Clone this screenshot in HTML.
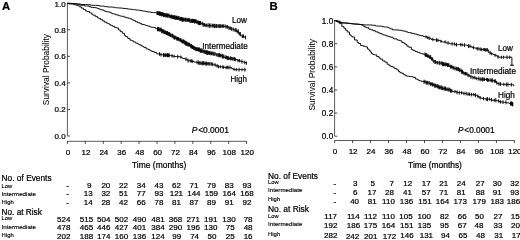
<!DOCTYPE html>
<html><head><meta charset="utf-8"><title>Survival Probability</title>
<style>
html,body{margin:0;padding:0;background:#fff;}
body{width:520px;height:240px;overflow:hidden;}
svg{display:block;}
svg{transform:translateZ(0);will-change:transform;}
svg text{font-family:'Liberation Sans', Arial, Helvetica, sans-serif;fill:#000;stroke:#000;stroke-width:0.22px;}
</style></head><body>
<svg width="520" height="240" viewBox="0 0 520 240">
<rect width="520" height="240" fill="#fff"/>
<g stroke="#4a4a4a" stroke-width="0.9" fill="none"><path d="M67.40 3.20 V136.00"/><path stroke="#333" d="M67.40 136.00 h2.60"/><path stroke="#333" d="M67.40 109.44 h2.60"/><path stroke="#333" d="M67.40 82.88 h2.60"/><path stroke="#333" d="M67.40 56.32 h2.60"/><path stroke="#333" d="M67.40 29.76 h2.60"/><path stroke="#333" d="M67.40 3.20 h2.60"/><path d="M67.40 141.30 H246.60"/><path stroke="#333" d="M67.40 141.10 v2.80"/><path stroke="#333" d="M85.32 141.10 v2.80"/><path stroke="#333" d="M103.24 141.10 v2.80"/><path stroke="#333" d="M121.16 141.10 v2.80"/><path stroke="#333" d="M139.08 141.10 v2.80"/><path stroke="#333" d="M157.00 141.10 v2.80"/><path stroke="#333" d="M174.92 141.10 v2.80"/><path stroke="#333" d="M192.84 141.10 v2.80"/><path stroke="#333" d="M210.76 141.10 v2.80"/><path stroke="#333" d="M228.68 141.10 v2.80"/><path stroke="#333" d="M246.60 141.10 v2.80"/></g>
<text x="65.70" y="138.95" font-size="8.0" text-anchor="end" >0.0</text>
<text x="65.70" y="112.39" font-size="8.0" text-anchor="end" >0.2</text>
<text x="65.70" y="85.83" font-size="8.0" text-anchor="end" >0.4</text>
<text x="65.70" y="59.27" font-size="8.0" text-anchor="end" >0.6</text>
<text x="65.70" y="32.71" font-size="8.0" text-anchor="end" >0.8</text>
<text x="65.70" y="7.25" font-size="8.0" text-anchor="end" >1.0</text>
<text x="68.00" y="154.50" font-size="8.0" text-anchor="middle" >0</text>
<text x="85.92" y="154.50" font-size="8.0" text-anchor="middle" >12</text>
<text x="103.84" y="154.50" font-size="8.0" text-anchor="middle" >24</text>
<text x="121.76" y="154.50" font-size="8.0" text-anchor="middle" >36</text>
<text x="139.68" y="154.50" font-size="8.0" text-anchor="middle" >48</text>
<text x="157.60" y="154.50" font-size="8.0" text-anchor="middle" >60</text>
<text x="175.52" y="154.50" font-size="8.0" text-anchor="middle" >72</text>
<text x="193.44" y="154.50" font-size="8.0" text-anchor="middle" >84</text>
<text x="211.36" y="154.50" font-size="8.0" text-anchor="middle" >96</text>
<text x="229.28" y="154.50" font-size="8.0" text-anchor="middle" >108</text>
<text x="247.20" y="154.50" font-size="8.0" text-anchor="middle" >120</text>
<text x="132.00" y="168.10" font-size="8.4" text-anchor="start" textLength="54.2" lengthAdjust="spacingAndGlyphs">Time (months)</text>
<text transform="translate(49.2,105.2) rotate(-90)" font-size="8.4" style="stroke-width:0.04px" textLength="71.2" lengthAdjust="spacingAndGlyphs">Survival Probability</text>
<text x="1.90" y="9.60" font-size="11.3" text-anchor="start" font-weight="bold">A</text>
<text x="191.70" y="133.10" font-size="8.2" text-anchor="start" textLength="37.2" lengthAdjust="spacingAndGlyphs"><tspan font-style="italic">P</tspan><tspan dx="0.8">&lt;0.0001</tspan></text>
<g stroke="#000" stroke-width="0.92" fill="none">
<path d="M67.20 3.40 H68.75 V3.40 H70.76 V3.40 H72.62 V3.53 H73.78 V3.66 H74.91 V3.66 H76.09 V3.66 H77.78 V4.13 H79.04 V4.13 H81.03 V4.49 H82.94 V4.49 H85.42 V4.49 H87.74 V4.72 H89.03 V4.74 H90.55 V5.26 H91.89 V5.26 H93.89 V5.32 H95.76 V5.32 H96.93 V5.51 H98.99 V5.85 H100.52 V6.10 H102.25 V6.13 H104.47 V6.59 H105.91 V6.67 H107.74 V7.03 H109.87 V7.03 H112.36 V7.11 H114.05 V7.64 H115.35 V7.64 H116.48 V7.84 H118.66 V8.01 H121.00 V8.10 H123.08 V8.46 H125.00 V8.58 H127.29 V9.07 H129.05 V9.10 H130.22 V9.24 H132.23 V9.68 H134.50 V9.68 H136.13 V10.05 H137.24 V10.09 H138.57 V10.09 H139.73 V10.61 H141.00 V10.61 H142.64 V11.12 H143.84 V11.12 H145.71 V11.62 H147.97 V11.97 H149.45 V11.97 H151.04 V12.47 H153.50 V12.47 H154.84 V12.71 H156.25 V13.07 H158.18 V13.37 H159.27 V13.73 H160.88 V14.21 H163.33 V14.90 H165.15 V15.32 H167.21 V15.53 H169.58 V16.53 H171.92 V17.13 H173.57 V17.32 H174.80 V17.76 H175.97 V17.76 H177.35 V18.15 H178.92 V18.48 H180.00 V18.81 H181.22 V19.13 H182.34 V19.60 H184.30 V19.60 H185.75 V19.87 H187.35 V20.02 H189.65 V20.88 H191.40 V20.89 H192.61 V20.89 H194.18 V21.23 H196.45 V21.90 H197.57 V22.78 H199.41 V23.07 H201.27 V23.67 H203.11 V24.82 H205.43 V25.33 H206.89 V25.33 H208.21 V25.54 H210.06 V25.66 H211.61 V25.66 H213.86 V26.00 H216.17 V26.03 H218.43 V26.10 H219.83 V26.10 H221.43 V26.10 H222.55 V26.10 H224.00 V26.36 H226.46 V26.89 H228.89 V28.23 H231.34 V28.93 H232.74 V29.45 H234.10 V30.02 H236.08 V31.31 H238.37 V33.66 H240.39 V35.81 H241.59 V36.17 H243.98 V37.10 H245.50 V37.49"/>
<path d="M67.20 3.40 H68.54 V3.64 H70.10 V3.75 H72.58 V3.75 H74.23 V4.10 H76.36 V4.10 H77.62 V4.23 H80.00 V5.06 H81.29 V5.32 H83.78 V5.72 H85.37 V5.98 H86.64 V5.98 H89.12 V6.77 H90.95 V7.29 H92.66 V7.59 H94.93 V7.68 H96.37 V8.03 H97.80 V8.68 H99.25 V9.08 H100.52 V9.78 H102.11 V10.08 H104.03 V10.98 H105.72 V11.56 H107.52 V11.96 H109.35 V12.31 H111.07 V12.98 H112.15 V13.69 H113.48 V13.97 H115.60 V14.70 H117.15 V15.13 H119.03 V15.81 H120.27 V16.04 H121.70 V16.30 H123.90 V17.05 H125.78 V17.73 H128.18 V18.25 H130.14 V18.87 H131.96 V19.88 H133.69 V20.64 H135.46 V21.74 H137.54 V22.74 H139.98 V23.61 H141.87 V24.55 H144.16 V24.80 H145.41 V25.34 H146.60 V25.59 H147.78 V26.18 H149.99 V26.97 H151.29 V27.26 H153.32 V27.55 H155.67 V28.71 H157.07 V29.12 H158.72 V29.61 H161.23 V31.06 H162.54 V31.49 H164.36 V32.36 H165.73 V33.03 H167.85 V33.93 H169.72 V35.11 H170.83 V35.60 H172.81 V36.70 H173.98 V37.54 H176.20 V38.65 H177.43 V38.88 H178.56 V39.73 H180.03 V40.12 H181.72 V41.48 H183.98 V42.37 H185.28 V43.45 H187.18 V44.38 H188.39 V44.70 H190.46 V46.05 H191.64 V46.98 H193.64 V48.01 H194.84 V48.71 H196.01 V49.18 H197.75 V49.55 H199.62 V50.59 H201.09 V50.71 H202.93 V51.47 H204.16 V51.90 H205.32 V52.30 H206.85 V52.66 H209.02 V53.09 H210.82 V53.39 H212.40 V53.61 H213.84 V53.90 H215.98 V54.72 H217.33 V55.08 H219.75 V55.61 H222.01 V56.47 H223.81 V57.23 H225.45 V57.49 H227.52 V58.17 H229.10 V58.40 H231.19 V58.71 H232.86 V58.89 H234.02 V59.00 H235.20 V59.61 H236.65 V59.82 H237.85 V60.64 H240.18 V61.40 H241.67 V61.58 H243.17 V62.13 H244.48 V62.49 H245.93 V63.19 H246.50 V63.19"/>
<path d="M67.20 3.40 H68.63 V3.81 H70.16 V3.81 H71.24 V3.81 H73.00 V4.25 H74.37 V4.72 H75.46 V4.97 H76.67 V5.46 H77.81 V5.73 H79.33 V6.77 H81.25 V8.12 H83.41 V9.51 H85.52 V10.91 H87.16 V11.55 H89.66 V12.90 H91.78 V14.40 H92.93 V15.16 H95.29 V16.42 H97.43 V17.79 H98.71 V18.40 H100.51 V19.67 H102.75 V21.02 H104.67 V22.22 H106.74 V23.24 H108.15 V23.63 H109.42 V24.49 H110.65 V25.41 H112.54 V26.31 H114.52 V27.40 H116.30 V27.98 H118.53 V30.03 H120.34 V31.64 H122.36 V33.33 H124.51 V35.49 H125.69 V36.64 H127.82 V38.52 H129.97 V40.14 H131.76 V40.82 H133.53 V41.98 H135.71 V43.16 H137.72 V43.99 H139.01 V44.81 H141.16 V46.00 H143.06 V46.82 H144.23 V47.57 H146.27 V48.87 H148.33 V49.72 H150.15 V50.76 H151.90 V51.48 H154.27 V52.49 H156.76 V53.81 H157.86 V53.95 H160.12 V54.73 H161.85 V54.73 H163.23 V55.11 H164.62 V55.11 H165.90 V55.22 H168.35 V55.32 H170.61 V55.81 H172.97 V56.22 H174.38 V56.51 H176.16 V56.51 H177.25 V56.65 H178.98 V56.76 H180.26 V57.04 H181.80 V58.03 H182.88 V58.48 H185.17 V59.20 H187.58 V60.64 H189.96 V60.95 H191.58 V61.38 H194.09 V62.07 H195.69 V62.34 H197.17 V62.48 H198.40 V63.05 H199.89 V63.22 H201.33 V63.22 H203.14 V63.22 H204.76 V63.60 H207.11 V63.70 H209.10 V63.91 H211.54 V64.35 H213.65 V64.85 H215.79 V65.82 H217.95 V66.62 H219.44 V66.77 H221.86 V67.05 H223.62 V67.22 H225.13 V67.49 H227.61 V67.49 H229.64 V67.49 H231.52 V68.60 H232.84 V69.21 H234.22 V69.62 H236.02 V69.62 H238.40 V69.67 H240.13 V69.67 H241.49 V69.67 H243.06 V69.67 H244.48 V69.67 H246.00 V69.67"/>
</g>
<g stroke="#000" stroke-width="0.9" fill="none">
<path d="M157.00 11.03 v4.08M157.55 11.22 v3.70M158.16 11.24 v3.66M158.67 11.72 v3.30M159.13 11.20 v4.33M159.51 11.83 v3.80M160.18 11.62 v4.21M160.61 11.96 v3.54M161.06 12.37 v3.69M161.63 12.06 v4.32M162.44 12.10 v4.23M162.75 12.58 v3.27M163.48 12.78 v4.25M164.06 12.95 v3.90M164.36 13.06 v3.68M165.22 13.24 v4.17M166.03 13.15 v4.34M166.48 13.64 v3.35M166.87 13.41 v3.83M167.58 13.38 v4.30M168.32 13.54 v3.97M169.08 13.65 v3.75M169.71 14.89 v3.28M170.48 14.78 v3.50M171.33 14.54 v3.97M171.81 14.84 v3.38M172.26 15.15 v3.96M172.98 15.45 v3.36M173.32 15.21 v3.83M173.97 15.49 v3.67M174.41 15.36 v3.92M174.71 15.54 v3.57M175.29 15.60 v4.32M175.98 15.64 v4.24M176.56 16.01 v3.50M177.01 15.60 v4.33M177.73 16.35 v3.58M178.04 16.25 v3.80M178.75 16.29 v3.71M179.20 16.49 v3.99M180.06 17.06 v3.49M180.38 17.00 v3.62M180.93 16.80 v4.01M181.35 17.06 v4.14M182.09 17.23 v3.81M182.52 17.43 v4.34M183.00 17.51 v4.16M183.44 17.85 v3.48M184.20 17.81 v3.57M185.07 17.70 v3.80M185.48 17.85 v3.48M186.03 17.88 v3.99M186.90 18.18 v3.40M187.44 18.28 v3.47M188.32 18.32 v3.39M188.65 18.37 v3.30M189.19 17.89 v4.25M190.02 18.85 v4.07M190.92 18.73 v4.29M191.42 19.17 v3.44M192.28 18.85 v4.08M192.60 18.90 v3.99M193.12 19.06 v3.66M193.62 19.18 v3.42M193.92 19.12 v3.55M194.44 19.07 v4.32M194.81 19.07 v4.33M195.23 19.42 v3.64M196.03 19.15 v4.17M196.59 20.25 v3.29M197.17 20.07 v3.65M198.02 21.05 v3.45M198.54 20.65 v4.25M198.86 20.93 v3.70M199.65 21.02 v4.10M199.97 21.43 v3.27M200.00 20.93 v4.28M200.83 21.03 v4.08M202.37 21.86 v3.62M203.22 22.66 v4.32M204.45 23.06 v3.53M205.79 23.54 v3.59M206.64 23.72 v3.23M208.02 23.20 v4.27M209.27 23.39 v4.31M209.85 23.79 v3.50M210.92 23.50 v4.32M212.52 23.82 v3.67M213.34 23.80 v3.72M214.44 23.85 v4.29M215.19 23.93 v4.14M216.55 23.94 v4.17M217.95 24.07 v3.92M218.86 24.31 v3.59M219.81 24.04 v4.12M220.45 24.38 v3.45M221.82 24.35 v3.51M222.45 24.47 v3.27M223.60 24.30 v3.60M225.23 24.24 v4.24M226.87 25.13 v3.53M227.51 25.22 v3.34M229.00 26.21 v4.04M230.33 26.48 v3.50M231.61 26.96 v3.94M233.25 27.41 v4.08M235.14 28.03 v3.99M236.01 27.93 v4.19M237.12 29.37 v3.88M238.34 29.28 v4.07M239.32 31.90 v3.51M240.36 31.95 v3.40M242.30 34.22 v3.89M243.46 34.33 v3.68M245.55 35.58 v3.81"/>
<path d="M157.50 27.04 v4.15M158.19 26.94 v4.36M158.55 27.23 v3.77M159.34 27.51 v4.19M160.19 27.97 v3.28M160.67 27.92 v3.37M161.08 27.44 v4.34M161.73 28.91 v4.29M162.26 28.95 v4.22M162.83 29.73 v3.53M163.59 29.34 v4.31M163.96 29.54 v3.91M164.63 30.62 v3.48M165.15 30.66 v3.39M165.57 30.60 v3.52M166.23 31.05 v3.97M166.65 31.41 v3.24M167.15 31.03 v4.00M167.56 31.24 v3.59M167.98 31.86 v4.14M168.61 32.28 v3.30M168.97 32.09 v3.68M169.60 31.95 v3.96M169.96 33.40 v3.42M170.67 33.26 v3.70M171.14 33.81 v3.58M172.02 33.81 v3.59M172.66 33.78 v3.64M173.21 34.59 v4.22M174.10 35.72 v3.64M174.52 35.51 v4.06M174.94 35.93 v3.24M175.79 35.69 v3.71M176.58 36.80 v3.69M177.41 36.77 v3.76M177.81 37.26 v3.25M178.44 36.90 v3.96M179.28 38.07 v3.33M179.96 37.91 v3.65M180.56 38.42 v3.40M181.03 38.20 v3.82M181.88 39.80 v3.35M182.48 39.41 v4.15M183.36 39.75 v3.45M183.73 39.33 v4.31M184.62 40.48 v3.78M184.95 40.23 v4.29M185.48 41.32 v4.26M186.16 41.37 v4.17M186.55 41.39 v4.13M186.99 41.60 v3.69M187.79 42.29 v4.18M188.20 42.64 v3.48M188.74 42.79 v3.82M189.27 43.01 v3.37M189.72 42.67 v4.06M190.56 44.41 v3.28M191.20 44.00 v4.09M191.52 43.95 v4.19M191.89 45.03 v3.91M192.52 45.01 v3.94M193.00 45.13 v3.71M193.65 46.15 v3.72M194.35 46.14 v3.74M194.91 47.08 v3.26M195.58 46.81 v3.79M196.02 47.13 v4.10M196.79 47.31 v3.75M197.20 47.30 v3.77M197.56 47.50 v3.38M198.12 47.89 v3.33M198.69 47.65 v3.81M199.01 47.58 v3.96M199.36 47.52 v4.07M200.13 48.68 v3.81M200.46 48.69 v3.80M200.99 48.43 v4.31M201.37 48.61 v4.21M202.27 48.68 v4.06M203.06 49.74 v3.45M203.95 49.57 v3.79M204.82 49.76 v4.27M205.22 49.83 v4.13M206.08 50.65 v3.30M206.59 50.25 v4.09M206.98 50.54 v4.25M207.45 50.58 v4.16M207.83 50.76 v3.80M208.69 50.93 v3.47M209.14 51.18 v3.81M209.63 51.45 v3.27M210.04 51.38 v3.41M210.91 51.38 v4.00M211.74 51.68 v3.42M212.00 51.71 v3.36M213.03 51.64 v3.96M213.89 51.79 v4.23M214.95 51.96 v3.89M216.33 53.05 v3.35M217.82 53.11 v3.95M218.72 53.02 v4.14M219.48 52.91 v4.36M220.56 53.79 v3.64M221.82 53.74 v3.73M222.50 54.43 v4.08M223.05 54.38 v4.16M223.80 54.49 v3.96M225.28 55.28 v3.90M226.45 55.70 v3.59M226.95 55.86 v3.27M227.60 56.20 v3.93M228.53 56.26 v3.81M229.93 56.71 v3.38M230.65 56.41 v3.97M231.18 56.79 v3.23M232.03 57.04 v3.35M232.89 57.14 v3.49M233.97 56.94 v3.90M234.68 57.03 v3.94M235.65 57.91 v3.38M238.00 58.89 v3.51M239.43 58.97 v3.34M241.93 59.47 v4.22M244.75 60.65 v3.69M246.43 61.57 v3.24"/>
<path d="M159.50 52.12 v3.67M161.03 52.85 v3.76M163.50 53.08 v4.07M164.24 53.45 v3.33M165.08 53.56 v3.11M165.70 53.37 v3.50M166.14 53.66 v3.12M166.91 53.69 v3.07M167.54 53.18 v4.08M167.93 53.58 v3.28M168.59 53.51 v3.61M169.28 53.35 v3.94M172.00 54.12 v3.39M174.08 54.66 v3.11M177.69 54.69 v3.91M180.85 55.50 v3.07M186.00 57.27 v3.86M188.12 58.71 v3.86M190.22 59.30 v3.30M191.55 59.29 v3.31M192.74 59.67 v3.42M197.00 60.44 v3.81M198.35 60.56 v3.83M199.11 61.22 v3.66M200.05 61.27 v3.91M201.07 61.55 v3.35M202.21 61.17 v4.10M202.93 61.22 v4.01M203.44 61.55 v3.34M204.18 61.29 v3.86M205.63 61.67 v3.87M206.45 61.60 v4.01M207.28 62.04 v3.32M208.69 61.83 v3.74M209.88 62.02 v3.78M211.36 62.13 v3.57M212.70 62.44 v3.81M215.00 63.09 v3.53M217.08 63.99 v3.68M218.46 64.98 v3.29M220.36 65.20 v3.14M222.76 65.44 v3.22M223.66 65.63 v3.18M226.09 65.77 v3.43M227.18 65.94 v3.09M228.10 65.58 v3.81M230.03 65.58 v3.81M234.00 67.65 v3.13M236.29 67.90 v3.45M239.06 67.70 v3.95M241.98 68.11 v3.13M244.85 67.65 v4.05"/>
</g>
<text x="232.00" y="23.30" font-size="8.3" text-anchor="start" textLength="15" lengthAdjust="spacingAndGlyphs">Low</text>
<text x="202.30" y="49.00" font-size="8.3" text-anchor="start" textLength="45.4" lengthAdjust="spacingAndGlyphs">Intermediate</text>
<text x="230.50" y="82.00" font-size="8.3" text-anchor="start" textLength="16.6" lengthAdjust="spacingAndGlyphs">High</text>
<text x="1.60" y="181.00" font-size="8.35" text-anchor="start" textLength="50" lengthAdjust="spacingAndGlyphs">No. of Events</text>
<text x="1.60" y="214.60" font-size="8.35" text-anchor="start" textLength="40.2" lengthAdjust="spacingAndGlyphs">No. at Risk</text>
<text x="1.60" y="187.60" font-size="6.25" text-anchor="start" style="stroke-width:0.15px" textLength="10.6" lengthAdjust="spacingAndGlyphs">Low</text>
<text x="1.60" y="196.00" font-size="6.25" text-anchor="start" style="stroke-width:0.15px" textLength="34.4" lengthAdjust="spacingAndGlyphs">Intermediate</text>
<text x="1.60" y="204.20" font-size="6.25" text-anchor="start" style="stroke-width:0.15px" textLength="12.2" lengthAdjust="spacingAndGlyphs">High</text>
<text x="1.60" y="220.40" font-size="6.25" text-anchor="start" style="stroke-width:0.15px" textLength="10.6" lengthAdjust="spacingAndGlyphs">Low</text>
<text x="1.60" y="228.70" font-size="6.25" text-anchor="start" style="stroke-width:0.15px" textLength="34.4" lengthAdjust="spacingAndGlyphs">Intermediate</text>
<text x="1.60" y="237.00" font-size="6.25" text-anchor="start" style="stroke-width:0.15px" textLength="12.2" lengthAdjust="spacingAndGlyphs">High</text>
<text x="67.50" y="187.80" font-size="8.0" text-anchor="middle" >-</text>
<text x="89.30" y="187.80" font-size="8.0" text-anchor="middle" >9</text>
<text x="105.85" y="187.80" font-size="8.0" text-anchor="middle" >20</text>
<text x="123.50" y="187.80" font-size="8.0" text-anchor="middle" >22</text>
<text x="141.15" y="187.80" font-size="8.0" text-anchor="middle" >34</text>
<text x="158.90" y="187.80" font-size="8.0" text-anchor="middle" >43</text>
<text x="176.40" y="187.80" font-size="8.0" text-anchor="middle" >62</text>
<text x="193.90" y="187.80" font-size="8.0" text-anchor="middle" >71</text>
<text x="211.40" y="187.80" font-size="8.0" text-anchor="middle" >79</text>
<text x="229.30" y="187.80" font-size="8.0" text-anchor="middle" >83</text>
<text x="247.00" y="187.80" font-size="8.0" text-anchor="middle" >93</text>
<text x="67.50" y="196.40" font-size="8.0" text-anchor="middle" >-</text>
<text x="88.20" y="196.40" font-size="8.0" text-anchor="middle" >13</text>
<text x="105.85" y="196.40" font-size="8.0" text-anchor="middle" >32</text>
<text x="123.50" y="196.40" font-size="8.0" text-anchor="middle" >51</text>
<text x="141.15" y="196.40" font-size="8.0" text-anchor="middle" >77</text>
<text x="158.90" y="196.40" font-size="8.0" text-anchor="middle" >93</text>
<text x="176.40" y="196.40" font-size="8.0" text-anchor="middle" >121</text>
<text x="193.90" y="196.40" font-size="8.0" text-anchor="middle" >144</text>
<text x="211.40" y="196.40" font-size="8.0" text-anchor="middle" >159</text>
<text x="229.30" y="196.40" font-size="8.0" text-anchor="middle" >164</text>
<text x="247.00" y="196.40" font-size="8.0" text-anchor="middle" >168</text>
<text x="67.50" y="204.90" font-size="8.0" text-anchor="middle" >-</text>
<text x="88.20" y="204.90" font-size="8.0" text-anchor="middle" >14</text>
<text x="105.85" y="204.90" font-size="8.0" text-anchor="middle" >28</text>
<text x="123.50" y="204.90" font-size="8.0" text-anchor="middle" >42</text>
<text x="141.15" y="204.90" font-size="8.0" text-anchor="middle" >66</text>
<text x="158.90" y="204.90" font-size="8.0" text-anchor="middle" >78</text>
<text x="176.40" y="204.90" font-size="8.0" text-anchor="middle" >81</text>
<text x="193.90" y="204.90" font-size="8.0" text-anchor="middle" >87</text>
<text x="211.40" y="204.90" font-size="8.0" text-anchor="middle" >89</text>
<text x="229.30" y="204.90" font-size="8.0" text-anchor="middle" >91</text>
<text x="247.00" y="204.90" font-size="8.0" text-anchor="middle" >92</text>
<text x="63.70" y="221.80" font-size="8.0" text-anchor="middle" >524</text>
<text x="86.50" y="221.80" font-size="8.0" text-anchor="middle" >515</text>
<text x="103.70" y="221.80" font-size="8.0" text-anchor="middle" >504</text>
<text x="121.50" y="221.80" font-size="8.0" text-anchor="middle" >502</text>
<text x="139.50" y="221.80" font-size="8.0" text-anchor="middle" >490</text>
<text x="158.00" y="221.80" font-size="8.0" text-anchor="middle" >481</text>
<text x="175.50" y="221.80" font-size="8.0" text-anchor="middle" >368</text>
<text x="193.30" y="221.80" font-size="8.0" text-anchor="middle" >271</text>
<text x="210.70" y="221.80" font-size="8.0" text-anchor="middle" >191</text>
<text x="229.00" y="221.80" font-size="8.0" text-anchor="middle" >130</text>
<text x="248.10" y="221.80" font-size="8.0" text-anchor="middle" >78</text>
<text x="63.70" y="230.10" font-size="8.0" text-anchor="middle" >478</text>
<text x="86.50" y="230.10" font-size="8.0" text-anchor="middle" >465</text>
<text x="103.70" y="230.10" font-size="8.0" text-anchor="middle" >446</text>
<text x="121.50" y="230.10" font-size="8.0" text-anchor="middle" >427</text>
<text x="139.50" y="230.10" font-size="8.0" text-anchor="middle" >401</text>
<text x="158.00" y="230.10" font-size="8.0" text-anchor="middle" >384</text>
<text x="175.50" y="230.10" font-size="8.0" text-anchor="middle" >290</text>
<text x="193.30" y="230.10" font-size="8.0" text-anchor="middle" >196</text>
<text x="210.70" y="230.10" font-size="8.0" text-anchor="middle" >130</text>
<text x="230.30" y="230.10" font-size="8.0" text-anchor="middle" >75</text>
<text x="248.10" y="230.10" font-size="8.0" text-anchor="middle" >48</text>
<text x="63.70" y="238.50" font-size="8.0" text-anchor="middle" >202</text>
<text x="86.50" y="238.50" font-size="8.0" text-anchor="middle" >188</text>
<text x="103.70" y="238.50" font-size="8.0" text-anchor="middle" >174</text>
<text x="121.50" y="238.50" font-size="8.0" text-anchor="middle" >160</text>
<text x="139.50" y="238.50" font-size="8.0" text-anchor="middle" >136</text>
<text x="158.00" y="238.50" font-size="8.0" text-anchor="middle" >124</text>
<text x="176.80" y="238.50" font-size="8.0" text-anchor="middle" >99</text>
<text x="194.60" y="238.50" font-size="8.0" text-anchor="middle" >74</text>
<text x="212.00" y="238.50" font-size="8.0" text-anchor="middle" >50</text>
<text x="230.30" y="238.50" font-size="8.0" text-anchor="middle" >25</text>
<text x="248.10" y="238.50" font-size="8.0" text-anchor="middle" >16</text>
<g stroke="#4a4a4a" stroke-width="0.9" fill="none"><path d="M334.60 20.60 V136.20"/><path stroke="#333" d="M334.60 136.20 h2.60"/><path stroke="#333" d="M334.60 113.08 h2.60"/><path stroke="#333" d="M334.60 89.96 h2.60"/><path stroke="#333" d="M334.60 66.84 h2.60"/><path stroke="#333" d="M334.60 43.72 h2.60"/><path stroke="#333" d="M334.60 20.60 h2.60"/><path d="M334.60 140.50 H514.40"/><path stroke="#333" d="M334.60 140.30 v2.80"/><path stroke="#333" d="M352.58 140.30 v2.80"/><path stroke="#333" d="M370.56 140.30 v2.80"/><path stroke="#333" d="M388.54 140.30 v2.80"/><path stroke="#333" d="M406.52 140.30 v2.80"/><path stroke="#333" d="M424.50 140.30 v2.80"/><path stroke="#333" d="M442.48 140.30 v2.80"/><path stroke="#333" d="M460.46 140.30 v2.80"/><path stroke="#333" d="M478.44 140.30 v2.80"/><path stroke="#333" d="M496.42 140.30 v2.80"/><path stroke="#333" d="M514.40 140.30 v2.80"/></g>
<text x="333.20" y="139.15" font-size="8.2" text-anchor="end" >0.0</text>
<text x="333.20" y="116.03" font-size="8.2" text-anchor="end" >0.2</text>
<text x="333.20" y="92.91" font-size="8.2" text-anchor="end" >0.4</text>
<text x="333.20" y="69.79" font-size="8.2" text-anchor="end" >0.6</text>
<text x="333.20" y="46.67" font-size="8.2" text-anchor="end" >0.8</text>
<text x="333.20" y="23.55" font-size="8.2" text-anchor="end" >1.0</text>
<text x="335.10" y="153.50" font-size="8.0" text-anchor="middle" >0</text>
<text x="353.08" y="153.50" font-size="8.0" text-anchor="middle" >12</text>
<text x="371.06" y="153.50" font-size="8.0" text-anchor="middle" >24</text>
<text x="389.04" y="153.50" font-size="8.0" text-anchor="middle" >36</text>
<text x="407.02" y="153.50" font-size="8.0" text-anchor="middle" >48</text>
<text x="425.00" y="153.50" font-size="8.0" text-anchor="middle" >60</text>
<text x="442.98" y="153.50" font-size="8.0" text-anchor="middle" >72</text>
<text x="460.96" y="153.50" font-size="8.0" text-anchor="middle" >84</text>
<text x="478.94" y="153.50" font-size="8.0" text-anchor="middle" >96</text>
<text x="496.92" y="153.50" font-size="8.0" text-anchor="middle" >108</text>
<text x="514.90" y="153.50" font-size="8.0" text-anchor="middle" >120</text>
<text x="408.10" y="167.60" font-size="8.4" text-anchor="start" textLength="53.8" lengthAdjust="spacingAndGlyphs">Time (months)</text>
<text transform="translate(315.4,110.5) rotate(-90)" font-size="8.4" style="stroke-width:0.04px" textLength="71.5" lengthAdjust="spacingAndGlyphs">Survival Probability</text>
<text x="269.40" y="9.60" font-size="11.3" text-anchor="start" font-weight="bold">B</text>
<text x="458.00" y="133.10" font-size="8.2" text-anchor="start" textLength="36.6" lengthAdjust="spacingAndGlyphs"><tspan font-style="italic">P</tspan><tspan dx="0.8">&lt;0.0001</tspan></text>
<g stroke="#000" stroke-width="0.92" fill="none">
<path d="M334.60 20.60 H335.97 V20.80 H337.35 V21.08 H339.91 V22.35 H342.12 V22.98 H344.33 V22.98 H345.69 V22.98 H348.10 V23.23 H349.81 V23.53 H351.05 V23.53 H352.70 V23.97 H354.49 V23.97 H357.23 V24.18 H359.79 V24.47 H361.04 V24.47 H362.94 V24.84 H364.70 V24.93 H366.76 V24.93 H369.34 V24.93 H371.85 V25.16 H373.05 V25.27 H375.47 V25.99 H376.68 V25.99 H378.66 V26.11 H380.16 V26.11 H381.91 V26.59 H383.53 V26.97 H385.18 V26.97 H387.50 V27.41 H388.88 V28.06 H390.21 V28.86 H392.52 V29.86 H394.73 V29.86 H396.57 V30.07 H399.20 V30.29 H401.82 V30.71 H403.35 V31.14 H405.99 V31.85 H407.80 V32.56 H409.37 V32.66 H411.42 V33.37 H413.82 V33.89 H415.58 V34.10 H417.03 V34.82 H419.29 V35.42 H420.76 V35.66 H423.20 V36.50 H424.60 V36.85 H427.22 V37.64 H428.72 V38.24 H431.05 V39.49 H432.50 V39.49 H434.09 V39.84 H436.13 V40.08 H437.85 V40.41 H440.61 V41.34 H441.98 V41.92 H443.34 V41.92 H446.11 V42.97 H448.49 V43.29 H450.00 V43.80 H451.37 V43.82 H453.19 V44.01 H455.03 V44.65 H457.34 V44.65 H459.55 V44.67 H460.98 V44.85 H462.83 V45.05 H465.48 V45.11 H467.60 V46.04 H469.47 V46.30 H471.83 V47.54 H474.27 V48.09 H476.83 V48.72 H479.06 V49.13 H480.76 V49.55 H482.11 V49.55 H484.56 V49.91 H486.77 V49.91 H488.65 V52.73 H490.84 V53.83 H493.12 V54.56 H494.62 V55.28 H497.06 V56.82 H499.05 V57.23 H500.31 V57.23 H501.76 V57.23 H504.47 V57.23 H505.83 V57.23 H507.90 V57.23 H509.92 V57.23 H511.90 V66.02"/>
<path d="M334.60 20.60 H336.46 V21.46 H337.99 V21.73 H339.82 V22.29 H341.22 V22.84 H342.99 V22.84 H344.62 V23.07 H345.85 V23.19 H347.72 V23.54 H349.48 V23.54 H351.04 V23.85 H353.74 V23.92 H355.30 V24.23 H357.12 V24.23 H358.53 V24.48 H361.02 V25.01 H362.98 V25.93 H364.54 V26.99 H366.30 V27.69 H368.81 V29.14 H370.76 V29.80 H372.84 V30.67 H375.37 V31.83 H377.93 V32.77 H379.73 V33.47 H381.62 V34.09 H382.82 V34.88 H384.47 V35.11 H386.15 V35.86 H388.04 V36.62 H390.29 V37.21 H392.98 V38.48 H394.27 V38.91 H396.92 V39.80 H398.35 V40.37 H400.56 V40.86 H401.78 V42.40 H404.03 V43.52 H405.39 V44.47 H406.96 V46.20 H408.72 V47.20 H411.36 V49.45 H412.83 V50.33 H415.01 V51.45 H417.27 V52.37 H419.74 V53.24 H421.25 V53.65 H423.30 V54.36 H425.20 V55.15 H427.29 V56.07 H428.87 V57.01 H430.85 V58.89 H432.80 V61.32 H434.79 V61.99 H436.85 V62.68 H438.06 V62.93 H440.01 V63.15 H442.27 V64.10 H444.07 V64.40 H446.81 V65.07 H449.03 V66.27 H450.28 V66.71 H452.57 V67.79 H454.30 V68.47 H456.31 V69.07 H458.95 V70.13 H461.30 V71.80 H463.04 V72.93 H464.83 V73.64 H466.87 V75.04 H468.41 V75.71 H470.28 V76.84 H472.80 V77.62 H475.33 V78.56 H477.33 V78.63 H479.34 V79.28 H481.59 V79.33 H483.32 V79.33 H485.00 V79.46 H487.22 V79.95 H488.48 V80.11 H491.10 V80.41 H492.38 V80.44 H493.59 V81.07 H496.26 V83.05 H498.51 V84.04 H501.17 V84.15 H503.36 V84.35 H505.67 V84.51 H507.96 V84.51 H510.23 V84.74 H512.65 V84.74 H513.75 V86.18"/>
<path d="M334.60 20.60 H337.04 V21.98 H339.29 V23.60 H341.80 V26.41 H343.90 V28.25 H345.59 V30.18 H347.30 V32.03 H349.52 V34.79 H350.81 V35.92 H352.07 V36.97 H354.57 V39.99 H357.24 V42.42 H358.46 V43.51 H360.61 V45.54 H363.38 V46.27 H365.24 V46.84 H367.47 V48.98 H368.91 V50.18 H370.12 V51.91 H371.52 V53.57 H372.86 V54.54 H374.26 V54.83 H376.61 V56.45 H378.99 V57.90 H380.27 V59.14 H382.61 V60.96 H384.98 V62.21 H387.18 V64.31 H389.12 V65.64 H390.73 V66.60 H393.07 V67.29 H394.30 V68.45 H396.81 V69.81 H398.50 V71.54 H399.97 V72.73 H401.95 V73.40 H403.73 V74.87 H405.64 V75.83 H407.07 V76.17 H408.85 V76.37 H411.06 V76.59 H412.87 V77.33 H415.59 V79.01 H417.69 V79.91 H418.99 V80.77 H421.32 V81.34 H423.05 V81.70 H425.81 V82.69 H427.97 V82.99 H429.86 V83.98 H431.66 V84.58 H433.82 V85.63 H436.32 V86.25 H437.52 V86.74 H439.39 V87.43 H441.90 V88.26 H443.17 V88.53 H445.67 V89.25 H447.78 V89.62 H450.34 V90.90 H452.64 V91.58 H454.39 V91.58 H456.48 V92.38 H458.00 V92.63 H460.69 V92.77 H462.86 V93.48 H464.81 V93.51 H466.41 V94.10 H468.88 V94.21 H470.22 V94.62 H472.66 V94.62 H474.78 V95.25 H477.40 V96.50 H479.36 V97.77 H480.87 V98.03 H482.35 V98.65 H484.13 V98.86 H485.98 V99.15 H487.42 V99.15 H490.21 V99.75 H491.58 V100.15 H494.04 V100.21 H496.20 V100.75 H498.23 V100.97 H499.48 V101.93 H502.07 V102.15 H504.18 V102.36 H506.62 V102.88 H509.34 V103.57 H511.85 V104.12 H512.50 V104.12"/>
</g>
<g stroke="#000" stroke-width="0.9" fill="none">
<path d="M426.00 35.30 v3.10M427.77 36.15 v2.98M429.20 36.51 v3.46M432.77 37.81 v3.36M436.53 38.18 v3.82M438.00 38.66 v3.50M441.00 39.84 v3.01M445.09 40.34 v3.15M448.07 41.20 v3.54M452.14 42.04 v3.57M454.65 42.34 v3.35M456.49 42.71 v3.88M460.67 43.11 v3.12M462.18 43.27 v3.15M464.56 43.14 v3.81M468.50 44.17 v3.74M470.03 44.45 v3.69M473.41 45.77 v3.55M477.00 47.25 v2.95M477.97 46.89 v3.66M480.13 47.34 v3.58M481.32 47.80 v3.49M483.21 48.05 v3.00M484.45 47.97 v3.15M485.38 48.22 v3.38M486.39 48.35 v3.13M487.35 48.12 v3.58M490.00 50.92 v3.62M491.67 52.37 v2.93M495.09 53.72 v3.11M498.00 54.94 v3.77M501.33 55.72 v3.03M503.61 55.74 v2.99M507.04 55.36 v3.75M509.74 55.56 v3.35"/>
<path d="M425.00 52.33 v4.06M425.78 53.23 v3.84M426.30 53.45 v3.39M426.74 53.18 v3.94M427.58 54.42 v3.31M428.68 54.35 v3.44M429.41 55.35 v3.32M430.03 54.97 v4.08M430.69 55.34 v3.33M431.49 57.14 v3.50M432.61 57.25 v3.27M433.79 59.71 v3.21M434.91 60.04 v3.89M435.48 60.15 v3.67M437.00 60.97 v3.43M437.77 60.91 v3.55M439.41 60.80 v4.25M440.98 61.52 v3.25M441.85 61.08 v4.14M442.46 62.12 v3.95M443.33 61.98 v4.23M443.90 62.08 v4.04M444.83 62.75 v3.30M445.38 62.37 v4.07M446.51 62.73 v3.35M447.54 62.99 v4.16M448.33 63.18 v3.78M449.03 63.40 v3.34M450.43 64.75 v3.93M451.19 65.10 v3.23M451.84 64.80 v3.82M452.93 66.07 v3.45M453.71 65.88 v3.82M455.04 66.45 v4.05M456.23 66.79 v3.37M456.85 67.09 v3.96M457.85 67.10 v3.95M458.46 67.05 v4.04M459.38 68.09 v4.08M460.88 68.28 v3.69M461.45 69.72 v4.16M462.52 69.75 v4.11M463.37 71.25 v3.35M464.83 71.86 v3.55M465.56 71.86 v3.56M466.77 72.06 v3.15M467.89 73.22 v3.64M469.00 74.07 v3.28M471.00 74.82 v4.05M473.05 75.87 v3.50M474.86 75.84 v3.57M476.74 76.95 v3.21M478.80 76.52 v4.20M480.29 77.42 v3.71M481.84 77.46 v3.74M482.62 77.22 v4.22M483.71 77.66 v3.35M484.61 77.62 v3.42M486.59 77.87 v3.18M487.48 77.99 v3.92M488.52 78.53 v3.16M490.17 78.22 v3.78M491.71 78.44 v3.92M492.61 78.39 v4.11M494.44 79.47 v3.20M495.37 79.22 v3.69M496.87 81.32 v3.46M499.00 82.24 v3.60M500.53 82.14 v3.80M503.80 82.69 v3.31M506.37 82.53 v3.97M507.96 82.48 v4.06M511.41 82.95 v3.58"/>
<path d="M424.00 79.66 v4.08M424.92 79.90 v3.58M426.22 80.69 v4.01M426.97 80.98 v3.41M427.73 80.88 v3.63M429.06 80.97 v4.04M430.33 81.95 v4.05M431.54 82.38 v3.20M432.46 82.47 v4.21M433.75 82.87 v3.42M434.58 83.71 v3.85M435.36 83.77 v3.73M435.87 83.82 v3.63M436.78 84.67 v3.17M437.35 84.14 v4.22M438.50 84.65 v4.18M439.52 85.41 v4.04M440.77 85.36 v4.13M441.25 85.50 v3.86M441.94 86.31 v3.90M442.63 86.38 v3.75M443.91 86.61 v3.83M444.59 86.67 v3.72M445.43 86.43 v4.20M446.14 87.51 v3.48M447.17 87.61 v3.28M448.16 87.52 v4.21M449.07 87.90 v3.44M449.94 87.75 v3.74M450.52 89.26 v3.28M451.09 89.17 v3.47M451.91 89.17 v3.47M455.00 89.95 v3.24M457.09 90.34 v4.08M459.31 90.74 v3.78M461.61 91.08 v3.37M464.03 91.65 v3.66M466.13 91.60 v3.83M468.07 92.36 v3.49M469.55 92.51 v3.39M471.58 92.83 v3.57M473.75 93.04 v3.16M475.45 93.20 v4.10M478.00 94.62 v3.76M480.18 96.04 v3.46M483.45 96.91 v3.47M486.25 97.49 v3.32M487.50 97.09 v4.11M489.57 97.54 v3.21M491.52 97.93 v3.63M494.24 98.57 v3.27M495.83 98.10 v4.21M498.56 99.32 v3.32M500.40 100.16 v3.54M502.99 100.23 v3.83M505.96 100.33 v4.06M510.50 101.58 v3.97M511.12 101.57 v3.99M511.61 101.56 v4.02M512.21 102.04 v4.16M512.53 102.06 v4.11M512.78 102.12 v3.99"/>
<path d="M510 65.2 h4"/>
</g>
<text x="498.00" y="51.20" font-size="8.3" text-anchor="start" textLength="15" lengthAdjust="spacingAndGlyphs">Low</text>
<text x="470.00" y="74.30" font-size="8.3" text-anchor="start" textLength="46" lengthAdjust="spacingAndGlyphs">Intermediate</text>
<text x="498.00" y="97.70" font-size="8.3" text-anchor="start" textLength="16.8" lengthAdjust="spacingAndGlyphs">High</text>
<text x="268.00" y="179.00" font-size="8.35" text-anchor="start" textLength="50" lengthAdjust="spacingAndGlyphs">No. of Events</text>
<text x="268.00" y="212.00" font-size="8.35" text-anchor="start" textLength="41" lengthAdjust="spacingAndGlyphs">No. at Risk</text>
<text x="268.00" y="184.40" font-size="6.25" text-anchor="start" style="stroke-width:0.15px" textLength="10.6" lengthAdjust="spacingAndGlyphs">Low</text>
<text x="268.00" y="192.40" font-size="6.25" text-anchor="start" style="stroke-width:0.15px" textLength="34.4" lengthAdjust="spacingAndGlyphs">Intermediate</text>
<text x="268.00" y="201.00" font-size="6.25" text-anchor="start" style="stroke-width:0.15px" textLength="12.2" lengthAdjust="spacingAndGlyphs">High</text>
<text x="268.00" y="218.00" font-size="6.25" text-anchor="start" style="stroke-width:0.15px" textLength="10.6" lengthAdjust="spacingAndGlyphs">Low</text>
<text x="268.00" y="226.00" font-size="6.25" text-anchor="start" style="stroke-width:0.15px" textLength="34.4" lengthAdjust="spacingAndGlyphs">Intermediate</text>
<text x="268.00" y="235.60" font-size="6.25" text-anchor="start" style="stroke-width:0.15px" textLength="12.2" lengthAdjust="spacingAndGlyphs">High</text>
<text x="334.80" y="186.20" font-size="8.0" text-anchor="middle" >-</text>
<text x="355.30" y="186.20" font-size="8.0" text-anchor="middle" >3</text>
<text x="372.70" y="186.20" font-size="8.0" text-anchor="middle" >5</text>
<text x="391.80" y="186.20" font-size="8.0" text-anchor="middle" >7</text>
<text x="407.80" y="186.20" font-size="8.0" text-anchor="middle" >12</text>
<text x="426.20" y="186.20" font-size="8.0" text-anchor="middle" >17</text>
<text x="443.80" y="186.20" font-size="8.0" text-anchor="middle" >21</text>
<text x="461.30" y="186.20" font-size="8.0" text-anchor="middle" >24</text>
<text x="480.30" y="186.20" font-size="8.0" text-anchor="middle" >27</text>
<text x="497.30" y="186.20" font-size="8.0" text-anchor="middle" >30</text>
<text x="514.70" y="186.20" font-size="8.0" text-anchor="middle" >32</text>
<text x="334.80" y="194.70" font-size="8.0" text-anchor="middle" >-</text>
<text x="355.30" y="194.70" font-size="8.0" text-anchor="middle" >6</text>
<text x="372.00" y="194.70" font-size="8.0" text-anchor="middle" >17</text>
<text x="389.50" y="194.70" font-size="8.0" text-anchor="middle" >28</text>
<text x="407.50" y="194.70" font-size="8.0" text-anchor="middle" >41</text>
<text x="426.20" y="194.70" font-size="8.0" text-anchor="middle" >57</text>
<text x="443.80" y="194.70" font-size="8.0" text-anchor="middle" >71</text>
<text x="461.30" y="194.70" font-size="8.0" text-anchor="middle" >81</text>
<text x="480.30" y="194.70" font-size="8.0" text-anchor="middle" >88</text>
<text x="497.30" y="194.70" font-size="8.0" text-anchor="middle" >91</text>
<text x="514.70" y="194.70" font-size="8.0" text-anchor="middle" >93</text>
<text x="334.80" y="204.00" font-size="8.0" text-anchor="middle" >-</text>
<text x="354.60" y="204.00" font-size="8.0" text-anchor="middle" >40</text>
<text x="372.20" y="204.00" font-size="8.0" text-anchor="middle" >81</text>
<text x="388.50" y="204.00" font-size="8.0" text-anchor="middle" >110</text>
<text x="406.50" y="204.00" font-size="8.0" text-anchor="middle" >136</text>
<text x="425.00" y="204.00" font-size="8.0" text-anchor="middle" >151</text>
<text x="442.50" y="204.00" font-size="8.0" text-anchor="middle" >164</text>
<text x="460.30" y="204.00" font-size="8.0" text-anchor="middle" >173</text>
<text x="479.30" y="204.00" font-size="8.0" text-anchor="middle" >179</text>
<text x="497.20" y="204.00" font-size="8.0" text-anchor="middle" >183</text>
<text x="513.50" y="204.00" font-size="8.0" text-anchor="middle" >186</text>
<text x="330.70" y="219.30" font-size="8.0" text-anchor="middle" >117</text>
<text x="353.40" y="219.30" font-size="8.0" text-anchor="middle" >114</text>
<text x="370.50" y="219.30" font-size="8.0" text-anchor="middle" >112</text>
<text x="388.50" y="219.30" font-size="8.0" text-anchor="middle" >110</text>
<text x="406.00" y="219.30" font-size="8.0" text-anchor="middle" >105</text>
<text x="424.20" y="219.30" font-size="8.0" text-anchor="middle" >100</text>
<text x="444.50" y="219.30" font-size="8.0" text-anchor="middle" >82</text>
<text x="462.30" y="219.30" font-size="8.0" text-anchor="middle" >66</text>
<text x="479.50" y="219.30" font-size="8.0" text-anchor="middle" >50</text>
<text x="498.00" y="219.30" font-size="8.0" text-anchor="middle" >27</text>
<text x="515.30" y="219.30" font-size="8.0" text-anchor="middle" >15</text>
<text x="330.70" y="227.80" font-size="8.0" text-anchor="middle" >192</text>
<text x="353.50" y="227.80" font-size="8.0" text-anchor="middle" >186</text>
<text x="370.50" y="227.80" font-size="8.0" text-anchor="middle" >175</text>
<text x="388.50" y="227.80" font-size="8.0" text-anchor="middle" >164</text>
<text x="406.70" y="227.80" font-size="8.0" text-anchor="middle" >151</text>
<text x="424.50" y="227.80" font-size="8.0" text-anchor="middle" >135</text>
<text x="444.50" y="227.80" font-size="8.0" text-anchor="middle" >95</text>
<text x="462.30" y="227.80" font-size="8.0" text-anchor="middle" >67</text>
<text x="479.00" y="227.80" font-size="8.0" text-anchor="middle" >48</text>
<text x="498.00" y="227.80" font-size="8.0" text-anchor="middle" >33</text>
<text x="515.40" y="227.80" font-size="8.0" text-anchor="middle" >20</text>
<text x="330.80" y="237.80" font-size="8.0" text-anchor="middle" >282</text>
<text x="352.60" y="239.10" font-size="8.0" text-anchor="middle" >242</text>
<text x="370.70" y="239.10" font-size="8.0" text-anchor="middle" >201</text>
<text x="389.50" y="239.10" font-size="8.0" text-anchor="middle" >172</text>
<text x="407.00" y="237.80" font-size="8.0" text-anchor="middle" >146</text>
<text x="426.40" y="237.80" font-size="8.0" text-anchor="middle" >131</text>
<text x="445.50" y="237.80" font-size="8.0" text-anchor="middle" >94</text>
<text x="463.00" y="237.80" font-size="8.0" text-anchor="middle" >65</text>
<text x="480.50" y="237.80" font-size="8.0" text-anchor="middle" >48</text>
<text x="498.70" y="237.80" font-size="8.0" text-anchor="middle" >31</text>
<text x="516.20" y="237.80" font-size="8.0" text-anchor="middle" >17</text>
</svg>
</body></html>
